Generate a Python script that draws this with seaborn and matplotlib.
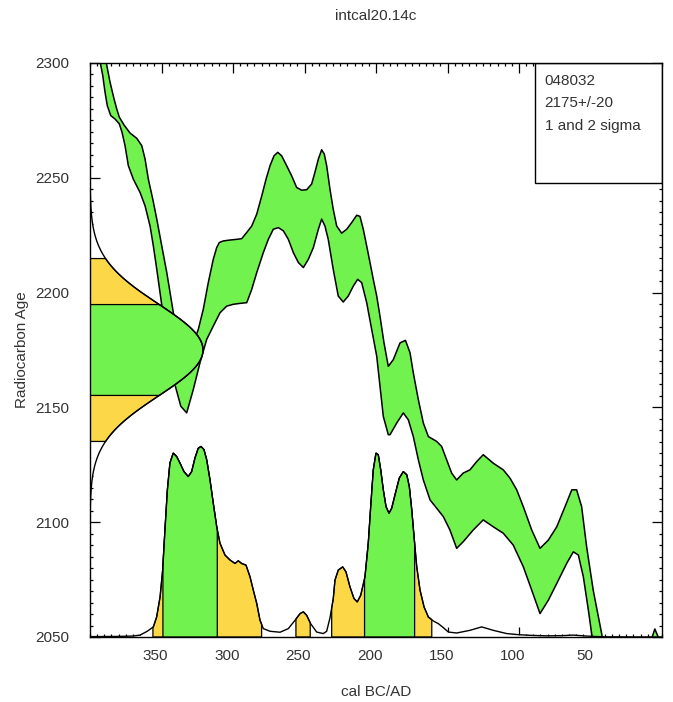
import numpy as np
import matplotlib
matplotlib.use("Agg")
import matplotlib.pyplot as plt
import matplotlib.transforms as mtransforms
from matplotlib.patches import Rectangle
from matplotlib.ticker import MultipleLocator, FixedLocator
import seaborn as sns

# ── data (years are cal BC, ages are radiocarbon years BP) ────────────────────
SAMPLE_ID = "048032"
C14_AGE = 2175
C14_ERR = 20
CURVE_NAME = "intcal20.14c"

# calibration curve envelope, upper edge
band_upper_year = [396, 388.8, 386, 383.2, 381.3, 379.5, 376.2, 372, 367.3, 363.8,
                   361.5, 359.2, 356.1, 353.3, 349.8, 346.3, 344, 341.7, 337.5, 333.5,
                   330.5, 327.8, 324.3, 320.8, 317.3, 313.8, 311.4, 309.6, 306.8, 302.1,
                   297.4, 293.9, 290.4, 286.9, 283.4, 279.9, 276.9, 274.1, 271.3, 268.7,
                   266, 262.5, 259, 255.5, 252, 248.5, 245, 242.7, 240.3, 238,
                   236.2, 234.5, 232.2, 229.9, 227.5, 224, 220.5, 217, 213.5, 211.2,
                   208.9, 206.5, 204.2, 201.9, 199.5, 197.2, 194.4, 191.4, 187.9, 183.2,
                   179.4, 176.2, 173.9, 170.4, 166.9, 163.4, 157.6, 154.1, 150.6, 147.1,
                   143.6, 139, 134.3, 129.6, 125, 118, 111, 106.3, 101.6, 97,
                   91.1, 85.3, 79.5, 73.6, 67.8, 63.1, 59.7, 56.2, 52.7, 48.1,
                   42.2, 38, 30, 15, 9, 5, 2, 0]
band_upper_age = [2325, 2300.7, 2291.7, 2284.4, 2280, 2276.4, 2273, 2269.5, 2267.2, 2264,
                  2258.2, 2249.4, 2240.7, 2232, 2220.3, 2208.7, 2200, 2191.2, 2183, 2176.5,
                  2175.5, 2178.1, 2183.9, 2192.7, 2204.3, 2214.5, 2219.6, 2221.8, 2222.5, 2222.9,
                  2223.2, 2223.5, 2226.2, 2229, 2234.2, 2242.1, 2249.4, 2255.3, 2259.6, 2261.1,
                  2259.6, 2255.3, 2250.9, 2245.8, 2244.6, 2244.8, 2247.3, 2252.4, 2258.2, 2262.2,
                  2260.4, 2255.3, 2245.1, 2236.3, 2229, 2225.9, 2227.6, 2230.5, 2233.7, 2233.2,
                  2227.6, 2220.3, 2213.1, 2205.8, 2198.5, 2189.7, 2178.1, 2167.9, 2170.8, 2178.1,
                  2179.2, 2173.8, 2165, 2153.4, 2143.2, 2137.3, 2135.2, 2133, 2127.2, 2121.4,
                  2118.4, 2121.4, 2122.8, 2126.4, 2129.4, 2125.7, 2122.8, 2119.2, 2114.1, 2106.8,
                  2096.6, 2088.6, 2092.2, 2098, 2106.8, 2114.1, 2114.1, 2106.8, 2089.3, 2070.4,
                  2051.5, 2035, 2020, 2030, 2046, 2053.5, 2049, 2044]

# calibration curve envelope, lower edge
band_lower_year = [400, 393, 391.1, 389.5, 387.9, 385.5, 382.5, 379.5, 377.6, 375.5,
                   373.2, 369.7, 365, 361.5, 358, 355.7, 353.3, 349.8, 345.5, 340.6,
                   336.5, 332.4, 327.8, 323.1, 318.4, 313.8, 309.1, 304.4, 299.8, 295.1,
                   290.4, 286.9, 283.4, 278.8, 275.3, 271.8, 268.3, 264.8, 261.3, 257.8,
                   254.3, 250.8, 247.3, 243.8, 240.3, 238, 235.7, 233.4, 229.9, 226.4,
                   222.9, 219.4, 215.9, 212.8, 210, 206.5, 203, 199.5, 197.2, 194.9,
                   191.4, 190.2, 185.5, 180.9, 177.4, 173.9, 170.4, 166.9, 162.2, 157.6,
                   152.9, 148.3, 143.6, 139, 132, 125, 118, 111, 104, 97,
                   91.1, 85.3, 79.5, 73.6, 66.6, 62, 58.5, 55, 51.5, 49.2,
                   46, 30, 0]
band_lower_age = [2306, 2300.7, 2294.6, 2287.3, 2281.4, 2277.1, 2275.6, 2273.5, 2269.8, 2264,
                  2255.3, 2249.4, 2243.6, 2237.8, 2229, 2220.3, 2210.1, 2194.5, 2177.4, 2159.9,
                  2150.5, 2147.6, 2157.7, 2169.4, 2179.6, 2185.4, 2191.2, 2194.1, 2194.9, 2195.3,
                  2195.6, 2201.4, 2208.7, 2217.4, 2223.2, 2227.6, 2228.3, 2226.9, 2223.2, 2217.4,
                  2213.1, 2210.9, 2214.5, 2219.6, 2227.6, 2232, 2229, 2223.2, 2210.1, 2198.5,
                  2195.9, 2198.5, 2202.8, 2205.8, 2204.3, 2195.6, 2183.9, 2172.3, 2159.2, 2146.1,
                  2138.1, 2138.1, 2143.2, 2147.6, 2144.6, 2137.3, 2127.2, 2118.4, 2109.7, 2106.1,
                  2102.4, 2096.6, 2088.6, 2091.5, 2096.6, 2101, 2098, 2095.2, 2090, 2080.6,
                  2070.4, 2060.2, 2066, 2073.3, 2082.1, 2087.1, 2085.7, 2076.2, 2061.7, 2051.5,
                  2040, 2005, 2010]

# calibrated probability (relative to the highest point)
prob_year = [400, 380, 370, 365, 360, 355.7, 353.4, 351, 349.2, 347.6,
             345.9, 344.1, 341.8, 339.4, 337.1, 334.3, 331.3, 328.9, 326.6, 324.3,
             322.4, 320.3, 318.4, 316.1, 313.8, 311.4, 309.1, 305.6, 302.1, 298.6,
             296.3, 294, 290.9, 288.1, 285.8, 283.4, 281.1, 278.8, 274.1, 267.1,
             261.3, 256.6, 253.1, 250.8, 248.5, 245.7, 241.5, 236.9, 234.5, 232.2,
             229.9, 228.7, 226.4, 223.3, 221, 218.2, 215.4, 213.1, 210.7, 207.7,
             205.4, 203.7, 201.9, 200, 198.4, 196.7, 194.9, 193, 190.9, 189,
             186.7, 183.7, 180.9, 178.5, 176.7, 175, 173.4, 171.5, 169.2, 166.4,
             163.4, 159.9, 156.4, 152.9, 149.4, 143.6, 134.3, 126.1, 118, 108.6,
             100, 90, 80, 70, 62, 55, 48, 40, 0]
prob_rel = [0.002, 0.003, 0.005, 0.01, 0.03, 0.053, 0.105, 0.21, 0.35, 0.56,
            0.77, 0.913, 0.965, 0.947, 0.913, 0.868, 0.842, 0.868, 0.939, 0.99,
            1.0, 0.983, 0.93, 0.825, 0.702, 0.579, 0.492, 0.43, 0.404, 0.386,
            0.4, 0.386, 0.377, 0.316, 0.246, 0.176, 0.088, 0.044, 0.03, 0.025,
            0.044, 0.088, 0.123, 0.132, 0.114, 0.07, 0.026, 0.018, 0.03, 0.1,
            0.2, 0.298, 0.351, 0.368, 0.342, 0.263, 0.202, 0.184, 0.219, 0.316,
            0.492, 0.684, 0.877, 0.965, 0.956, 0.877, 0.772, 0.684, 0.649, 0.676,
            0.746, 0.834, 0.868, 0.851, 0.789, 0.667, 0.526, 0.368, 0.246, 0.158,
            0.105, 0.084, 0.07, 0.049, 0.026, 0.021, 0.035, 0.053, 0.035, 0.018,
            0.012, 0.008, 0.006, 0.007, 0.01, 0.006, 0.003, 0.001, 0.0]

# highest probability ranges (from, to) in cal BC
sigma1_ranges = [(349, 311), (208, 173)]
sigma2_ranges = [(356, 280), (256, 246), (231, 161)]

x_ticks = [350, 300, 250, 200, 150, 100, 50]
y_ticks = [2050, 2100, 2150, 2200, 2250, 2300]

# ── style ─────────────────────────────────────────────────────────────────────
GREEN = "#72F24E"
YELLOW = "#FCD748"
TEXT = "#333333"
XMIN, XMAX = 400, 0
YMIN, YMAX = 2050, 2300
PROB_HEIGHT = 83      # peak of calibrated distribution, in radiocarbon years
GAUSS_WIDTH = 79      # peak of measured distribution, in calendar years

sns.set_theme(style="ticks")
plt.rcParams["font.family"] = ["Liberation Sans", "DejaVu Sans"]
plt.rcParams["font.size"] = 11

fig = plt.figure(figsize=(6.73, 7.02), dpi=100)
ax = fig.add_axes([90 / 673, 65 / 702, 572 / 673, 574 / 702])

# calibration curve band
poly_x = band_upper_year + band_lower_year[::-1]
poly_y = band_upper_age + band_lower_age[::-1]
ax.fill(poly_x, poly_y, facecolor=GREEN, edgecolor="black", linewidth=1.1,
        joinstyle="round", zorder=2)

# calibrated distribution on the x axis
py_ = np.array(prob_year[::-1])
pr_ = np.array(prob_rel[::-1])
prob_top = YMIN + np.array(prob_rel) * PROB_HEIGHT
ax.fill_between(prob_year, YMIN, prob_top, color="white", linewidth=0, zorder=3)


def range_patch(hi_lo, color):
    hi, lo = hi_lo
    inner = [y for y in prob_year if lo < y < hi]
    xs = [hi] + inner + [lo]
    ys = list(YMIN + np.interp(xs, py_, pr_) * PROB_HEIGHT)
    ax.fill([hi] + xs + [lo], [YMIN] + ys + [YMIN], facecolor=color,
            edgecolor="black", linewidth=0.9, zorder=3)


for r in sigma2_ranges:
    range_patch(r, YELLOW)
for r in sigma1_ranges:
    range_patch(r, GREEN)

sns.lineplot(x=prob_year, y=prob_top, ax=ax, color="black", linewidth=1.0,
             sort=False, estimator=None, zorder=3)

# measured radiocarbon age on the y axis
ages = np.linspace(YMIN, YMAX, 500)
gx = XMIN - GAUSS_WIDTH * np.exp(-0.5 * ((ages - C14_AGE) / C14_ERR) ** 2)
ax.fill_betweenx(ages, XMIN, gx, color="white", linewidth=0, zorder=4)
for k, color in [(2, YELLOW), (1, GREEN)]:
    m = (ages >= C14_AGE - k * C14_ERR) & (ages <= C14_AGE + k * C14_ERR)
    a = ages[m]
    g = gx[m]
    ax.fill([XMIN] + list(g) + [XMIN], [a[0]] + list(a) + [a[-1]],
            facecolor=color, edgecolor="black", linewidth=0.9, zorder=4)
sns.lineplot(x=gx, y=ages, ax=ax, color="black", linewidth=1.0, orient="y",
             sort=False, estimator=None, zorder=4)

# info box
ax.add_patch(Rectangle((0.778, 0.791), 0.222, 0.209, transform=ax.transAxes,
                       facecolor="white", edgecolor="black", linewidth=1.0, zorder=5))
for txt, yy in zip([SAMPLE_ID, f"{C14_AGE}+/-{C14_ERR}", "1 and 2 sigma"],
                   [0.969, 0.930, 0.891]):
    ax.text(0.795, yy, txt, transform=ax.transAxes, ha="left", va="center",
            fontsize=11, color=TEXT, zorder=6)

# axes
ax.set_xlim(XMIN, XMAX)
ax.set_ylim(YMIN, YMAX)
ax.xaxis.set_major_locator(FixedLocator(x_ticks))
ax.set_xticklabels([str(t) for t in x_ticks])
ax.xaxis.set_minor_locator(MultipleLocator(5))
ax.yaxis.set_major_locator(FixedLocator(y_ticks))
ax.set_yticklabels([str(t) for t in y_ticks])
ax.yaxis.set_minor_locator(MultipleLocator(5))
ax.tick_params(which="both", direction="in", top=True, right=True,
               color="black", width=0.9, labelcolor=TEXT, labelsize=11)
ax.tick_params(which="major", length=7)
ax.tick_params(which="minor", length=2.5)
ax.tick_params(axis="x", which="major", pad=9)
ax.tick_params(axis="y", which="major", pad=15)
ax.set_xlabel("")
ax.set_ylabel("")
for s in ax.spines.values():
    s.set_color("black")
    s.set_linewidth(1.0)
    s.set_zorder(7)

shift = mtransforms.ScaledTranslation(-0.06, 0, fig.dpi_scale_trans)
for lab in ax.get_xticklabels():
    lab.set_transform(lab.get_transform() + shift)

fig.text(376 / 673, 1 - 16 / 702, CURVE_NAME, ha="center", va="center",
         fontsize=11, color=TEXT)
fig.text(376 / 673, 1 - 692 / 702, "cal BC/AD", ha="center", va="center",
         fontsize=11, color=TEXT)
fig.text(22 / 673, 1 - 350 / 702, "Radiocarbon Age", ha="center", va="center",
         rotation=90, fontsize=11, color=TEXT)

fig.savefig("out.png", dpi=100, facecolor="white")
